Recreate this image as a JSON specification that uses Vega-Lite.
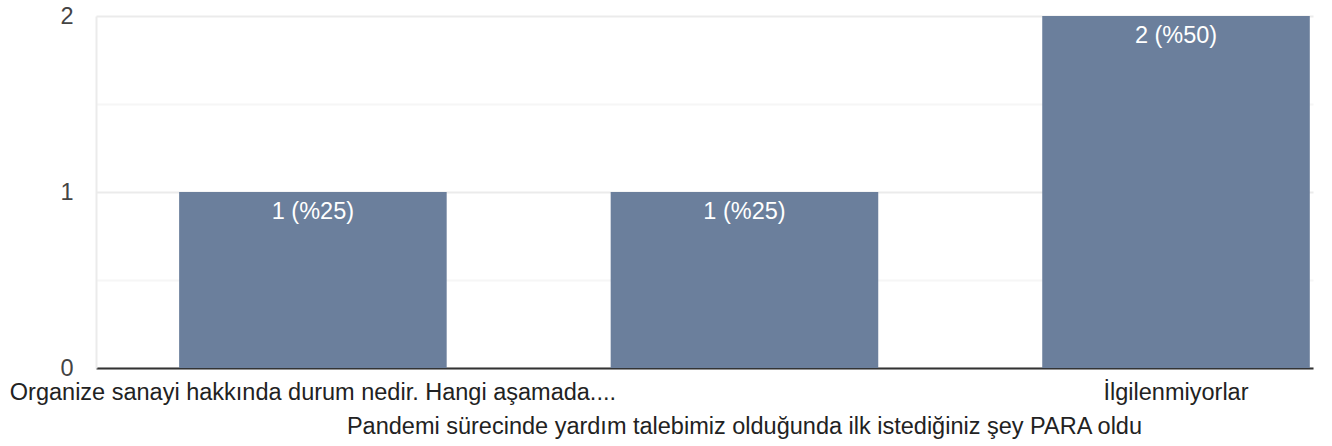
{
  "$schema": "https://vega.github.io/schema/vega-lite/v6.json",
  "autosize": "none",
  "width": 1217,
  "height": 352,
  "padding": {"left": 96, "top": 16, "right": 19, "bottom": 78},
  "background": "#ffffff",
  "config": {
    "font": "Liberation Sans",
    "view": {"stroke": null}
  },
  "data": {
    "values": [
      {"answer": "Organize sanayi hakkında durum nedir. Hangi aşamada....", "count": 1, "label": "1 (%25)"},
      {"answer": "Pandemi sürecinde yardım talebimiz olduğunda ilk istediğiniz şey PARA oldu", "count": 1, "label": "1 (%25)"},
      {"answer": "İlgilenmiyorlar", "count": 2, "label": "2 (%50)"}
    ]
  },
  "encoding": {
    "x": {
      "field": "answer",
      "type": "nominal",
      "sort": null,
      "scale": {"paddingInner": 0.38, "paddingOuter": 0.1, "align": 0.963},
      "axis": {
        "title": null,
        "labelAngle": 0,
        "labelFontSize": 23.5,
        "labelColor": "#222222",
        "labelLimit": 2000,
        "labelOverlap": false,
        "labelBound": false,
        "labelFlush": false,
        "labelPadding": 12,
        "labelLineHeight": 34,
        "labelBaseline": "top",
        "labelExpr": "indexof(datum.value, 'Pandemi') == 0 ? ['', datum.label] : datum.label",
        "ticks": false,
        "domainColor": "#333333",
        "domainWidth": 2,
        "grid": false
      }
    },
    "y": {
      "field": "count",
      "type": "quantitative",
      "scale": {"domain": [0, 2], "nice": false},
      "axis": {
        "title": null,
        "values": [0, 0.5, 1, 1.5, 2],
        "labelExpr": "datum.value % 1 == 0 ? format(datum.value, 'd') : ''",
        "labelOverlap": false,
        "labelFlush": false,
        "labelFontSize": 23.5,
        "labelColor": "#444444",
        "labelPadding": 23,
        "ticks": false,
        "domain": true,
        "domainColor": "#ebebeb",
        "domainWidth": 2,
        "grid": true,
        "gridColor": {"condition": {"test": "datum.value % 1 != 0", "value": "#f6f6f6"}, "value": "#ebebeb"},
        "gridWidth": 2
      }
    }
  },
  "layer": [
    {"mark": {"type": "bar", "color": "#6b7f9c"}},
    {
      "mark": {"type": "text", "color": "#ffffff", "fontSize": 23.5, "baseline": "alphabetic", "dy": 27},
      "encoding": {"text": {"field": "label"}}
    }
  ]
}
